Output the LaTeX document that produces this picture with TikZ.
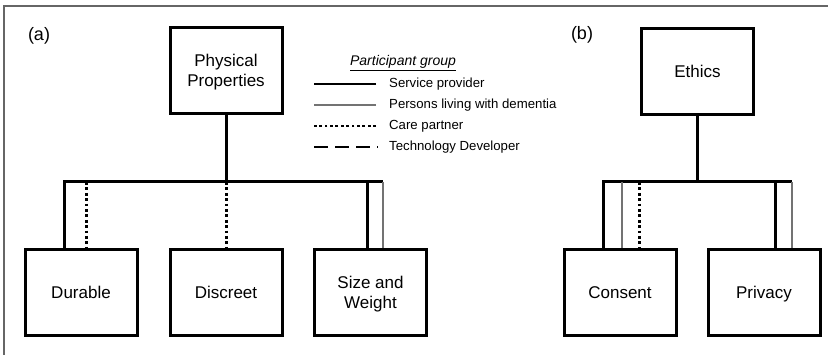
\documentclass[tikz,border=0pt]{standalone}
\usepackage{fontspec}
\setmainfont{Liberation Sans}
\usetikzlibrary{positioning}
\tikzset{
  box/.style={draw, line width=3pt, minimum width=112pt, minimum height=86pt,
    inner sep=0pt, align=center, font=\fontsize{17}{20}\selectfont,
    text depth=0pt},
  svcline/.style={line width=3pt, black},
  pwdline/.style={line width=2.4pt, black!55},
  careline/.style={line width=3pt, dash pattern=on 2.8pt off 2.6pt},
  techline/.style={line width=2.6pt, dash pattern=on 14pt off 7pt},
  legtext/.style={anchor=west, inner sep=0pt, font=\fontsize{13.2}{15}\selectfont},
  panel/.style={font=\fontsize{18}{20}\selectfont}
}

\begin{document}
\begin{tikzpicture}[x=1pt,y=-1pt]
  \useasboundingbox (0,0) rectangle (828,355);
  \draw[black!60, line width=1.2pt] (4,355) -- (4,6) -- (828,6);

  % Panel labels
  \node[panel] (la) at (39,36) {(a)};
  \node[panel] (lb) at (582,35) {(b)};

  % (a) Physical properties
  \node[box] (phys) at (226,70.5) {Physical\\Properties};
  \node[box] (dur) at (81,292.5) {Durable};
  \node[box] (disc) at (226,292.5) {Discreet};
  \node[box] (size) at (370.5,292.5) {Size and\\Weight};
  \coordinate (jA) at (226,182);
  \coordinate (barAL) at (64,182);
  \coordinate (barAR) at (383,182);
  \coordinate (durC) at (86,182);
  \coordinate (sizeS) at (367,182);

  \draw[svcline] (phys) -- (jA);
  \draw[svcline] (barAL |- dur.north) -- (barAL) -- (barAR);
  \draw[careline] (durC) -- (durC |- dur.north);
  \draw[careline] (jA) -- (disc);
  \draw[svcline] (sizeS) -- (sizeS |- size.north);
  \draw[pwdline] (barAR) -- (barAR |- size.north);

  % Legend
  \node[font=\fontsize{14}{16}\selectfont\itshape] (lgtitle) at (403,63) {\underline{Participant group}};
  \node[legtext] (lg1) at (389,84) {Service provider};
  \node[legtext] (lg2) at (389,105) {Persons living with dementia};
  \node[legtext] (lg3) at (389,126) {Care partner};
  \node[legtext] (lg4) at (389,147) {Technology Developer};
  \draw[svcline, line width=2.6pt] ([xshift=-13pt]lg1.west) -- ++(-62,0);
  \draw[pwdline] ([xshift=-13pt]lg2.west) -- ++(-62,0);
  \draw[careline, line width=2.6pt] ([xshift=-13pt]lg3.west) -- ++(-62,0);
  \draw[techline] ([xshift=-75pt]lg4.west) -- ++(64,0);

  % (b) Ethics
  \node[box] (eth) at (697.5,71.5) {Ethics};
  \node[box] (cons) at (620,292.5) {Consent};
  \node[box] (priv) at (764,292.5) {Privacy};
  \coordinate (jB) at (697.5,182);
  \coordinate (barBL) at (603,182);
  \coordinate (barBR) at (792,182);
  \coordinate (consP) at (622,182);
  \coordinate (consC) at (639,182);
  \coordinate (privS) at (775,182);

  \draw[svcline] (eth) -- (jB);
  \draw[svcline] (barBL |- cons.north) -- (barBL) -- (barBR);
  \draw[pwdline] (consP) -- (consP |- cons.north);
  \draw[careline] (consC) -- (consC |- cons.north);
  \draw[svcline] (privS) -- (privS |- priv.north);
  \draw[pwdline] (barBR) -- (barBR |- priv.north);
\end{tikzpicture}
\end{document}
